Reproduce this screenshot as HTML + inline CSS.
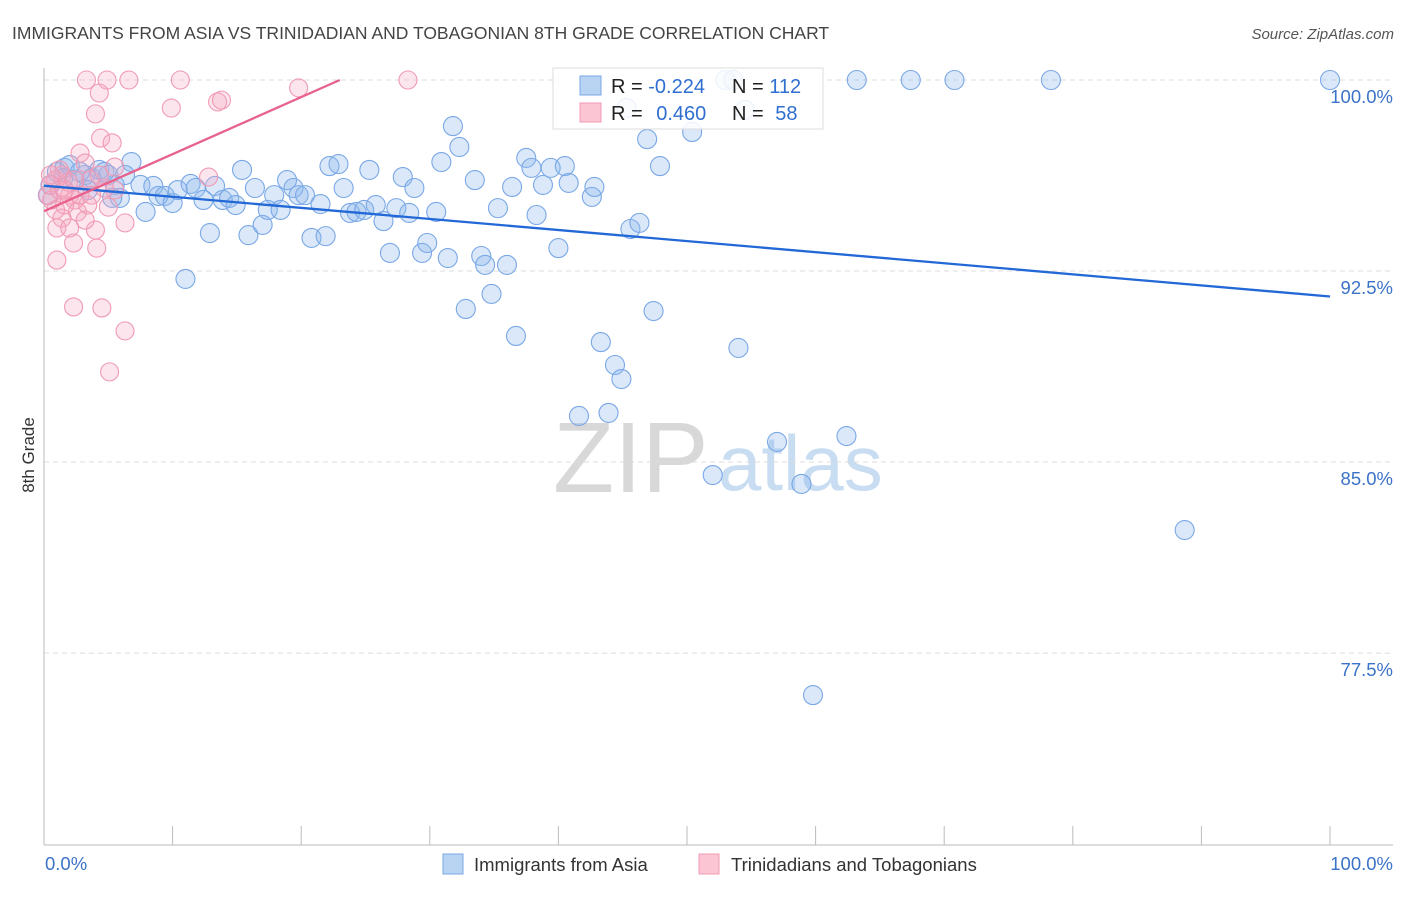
<!DOCTYPE html>
<html><head><meta charset="utf-8"><style>
body{margin:0;background:#fff;font-family:"Liberation Sans",sans-serif;}
svg text{font-family:"Liberation Sans",sans-serif;}
</style></head><body>
<svg id="chart" width="1406" height="892" viewBox="0 0 1406 892" xmlns="http://www.w3.org/2000/svg">
<text x="12" y="39" font-size="17.5" fill="#444">IMMIGRANTS FROM ASIA VS TRINIDADIAN AND TOBAGONIAN 8TH GRADE CORRELATION CHART</text>
<text x="1394" y="39" font-size="15" fill="#555" font-style="italic" text-anchor="end">Source: ZipAtlas.com</text>
<g>
<text x="553" y="492" font-size="100" fill="#d8d8d8" font-family="Liberation Serif, serif">ZIP</text>
<text x="718" y="490" font-size="78" fill="#c8dcf2">atlas</text>
</g>
<g id="grid"></g>
<g id="axes"></g>
<g id="pts"></g>
<g id="trends"></g>
<g>
<rect x="553" y="68" width="270" height="61" fill="#fff" fill-opacity="0.85" stroke="#ddd"/>
<rect x="580" y="76" width="21" height="19" fill="#b9d3f3" stroke="#7aa8e6"/>
<rect x="580" y="103" width="21" height="19" fill="#fcc5d3" stroke="#f09ab3"/>
<text x="611" y="93" font-size="20" fill="#222">R = <tspan fill="#2f6fd1">-0.224</tspan></text>
<text x="732" y="93" font-size="20" fill="#222">N = <tspan fill="#2f6fd1">112</tspan></text>
<text x="611" y="120" font-size="20" fill="#222">R = <tspan fill="#2f6fd1" dx="8">0.460</tspan></text>
<text x="732" y="120" font-size="20" fill="#222">N = <tspan fill="#2f6fd1" dx="6">58</tspan></text>
</g>
<g>
<rect x="443" y="854" width="20" height="20" fill="#b9d3f3" stroke="#7aa8e6"/>
<text x="474" y="871" font-size="18.5" fill="#333">Immigrants from Asia</text>
<rect x="699" y="854" width="20" height="20" fill="#fcc5d3" stroke="#f09ab3"/>
<text x="731" y="871" font-size="18.5" fill="#333">Trinidadians and Tobagonians</text>
</g>
<text transform="translate(34,455) rotate(-90)" font-size="17" fill="#333" text-anchor="middle">8th Grade</text>
</svg>
<script>
const blueX=[1.0,1.6,2.0,2.4,3.2,3.7,4.3,5.0,5.5,5.9,6.8,7.5,7.9,8.5,8.9,9.4,10.0,10.4,11.0,11.4,11.8,12.4,12.9,13.3,13.9,14.4,14.9,15.4,15.9,16.4,17.0,17.4,17.9,18.4,18.9,19.4,19.8,20.3,20.8,21.5,21.9,22.2,22.9,23.3,23.8,24.3,24.9,25.3,25.8,26.4,26.9,27.4,27.9,28.4,28.8,29.4,29.8,30.5,30.9,31.4,31.8,32.3,32.8,33.5,34.0,34.3,34.8,35.3,36.0,36.4,36.7,37.5,37.9,38.3,38.8,39.4,40.0,40.5,40.8,41.6,42.6,42.8,43.3,43.9,44.4,44.9,45.3,45.6,46.3,46.9,47.4,47.9,50.4,52.0,53.0,53.6,54.0,54.5,57.0,58.9,59.8,62.4,63.2,67.4,70.8,78.3,88.7,100,1.5,2.8,3.4,4.7,5.3,6.3,0.5,0.3];
const blueY=[96.39,96.55,96.66,96.07,96.27,96.15,96.47,96.27,95.88,95.37,96.78,95.88,94.82,95.84,95.45,95.45,95.17,95.68,92.19,95.92,95.76,95.29,93.99,95.84,95.29,95.37,95.09,96.47,93.91,95.76,94.31,94.90,95.48,94.90,96.07,95.76,95.48,95.48,93.80,95.13,93.87,96.62,96.70,95.76,94.78,94.82,94.90,96.47,95.09,94.46,93.21,94.97,96.19,94.78,95.76,93.21,93.60,94.82,96.78,93.01,98.19,97.37,91.01,96.07,93.09,92.74,91.60,94.97,92.74,95.80,89.95,96.94,96.55,94.70,95.88,96.55,93.40,96.62,95.96,86.81,95.41,95.80,89.71,86.93,88.81,88.26,98.90,94.15,94.39,97.68,90.93,96.62,97.96,84.49,100,100,89.48,98.82,85.79,84.14,75.85,86.02,100,100,100,100,82.33,100,96.15,96.39,95.68,96.39,95.37,96.27,95.88,95.48];
const pinkX=[3.3,4.9,6.6,10.6,28.3,19.8,4.3,9.9,13.5,13.8,4.0,4.4,5.3,2.8,3.2,5.5,4.3,1.4,0.9,0.5,0.3,0.6,1.2,2.0,2.4,2.6,3.4,5.0,1.4,1.0,2.0,4.0,2.3,4.1,1.0,2.3,4.5,6.3,5.1,12.8,5.5,3.6,1.6,2.8,0.9,1.9,4.7,6.3,1.2,2.4,3.7,3.2,0.5,1.6];
const pinkY=[100,100,100,100,100,99.69,99.49,98.90,99.14,99.21,98.67,97.72,97.53,97.13,96.74,96.58,96.27,96.27,96.07,95.88,95.48,95.29,95.68,95.48,95.29,94.82,95.09,95.01,94.58,94.19,94.19,94.11,93.60,93.40,92.93,91.09,91.05,90.15,88.54,96.19,95.68,96.07,95.09,95.48,94.90,95.99,95.76,94.39,96.47,96.07,95.48,94.50,96.27,95.68];
const blueTrend=[95.85,91.5];   // y at x=0 and x=100
const pinkTrend=[94.85,100,23.0]; // y at x=0, y end, x end
const yTicks=[100,92.5,85,77.5];
const yTickLabels=["100.0%","92.5%","85.0%","77.5%"];
const xTicks=[0,10,20,30,40,50,60,70,80,90,100];

const NS="http://www.w3.org/2000/svg";
const X0=44,X1=1330,Y100=80,PXU=25.47;
function sx(v){return X0+(v/100)*(X1-X0);}
function sy(v){return Y100+(100-v)*PXU;}
function mk(tag,attrs,parent){const e=document.createElementNS(NS,tag);for(const k in attrs)e.setAttribute(k,attrs[k]);parent.appendChild(e);return e;}
const grid=document.getElementById('grid'),axes=document.getElementById('axes'),pts=document.getElementById('pts'),tr=document.getElementById('trends');
yTicks.forEach((t,i)=>{
 const l=mk('line',{x1:X0,x2:1393,y1:sy(t),y2:sy(t),stroke:'#ddd','stroke-dasharray':'5,4'},grid);
 
 
 const tx=mk('text',{x:1393,y:sy(t)+23,'font-size':18.5,fill:'#3b73c8','text-anchor':'end'},axes);
 tx.textContent=yTickLabels[i];
 
 
});
const ax=mk('line',{x1:X0,x2:1393,y1:845,y2:845,stroke:'#bbb'},axes);


const ay=mk('line',{x1:X0,x2:X0,y1:68,y2:845,stroke:'#bbb'},axes);


xTicks.forEach(t=>{
 const l=mk('line',{x1:sx(t),x2:sx(t),y1:826,y2:845,stroke:'#bbb'},axes);
 
 
});
const xl0=mk('text',{x:45,y:870,'font-size':18.5,fill:'#3b73c8'},axes);xl0.textContent='0.0%';


const xl1=mk('text',{x:1393,y:870,'font-size':18.5,fill:'#3b73c8','text-anchor':'end'},axes);xl1.textContent='100.0%';


blueX.forEach((v,i)=>{
 const c=mk('circle',{cx:sx(v),cy:sy(blueY[i]),r:9.5,fill:'rgba(140,182,235,0.32)',stroke:'#7aa8e6','stroke-width':1.1},pts);
 
 
});
pinkX.forEach((v,i)=>{
 const c=mk('circle',{cx:sx(v),cy:sy(pinkY[i]),r:9,fill:'rgba(246,170,195,0.3)',stroke:'#f09ab3','stroke-width':1.1},pts);
 
 
});
const bl=mk('line',{x1:sx(0),y1:sy(blueTrend[0]),x2:sx(100),y2:sy(blueTrend[1]),stroke:'#2268d6','stroke-width':2.3},tr);


const pl=mk('line',{x1:sx(0),y1:sy(pinkTrend[0]),x2:sx(pinkTrend[2]),y2:sy(pinkTrend[1]),stroke:'#e8608c','stroke-width':2.3},tr);


</script>
</body></html>
